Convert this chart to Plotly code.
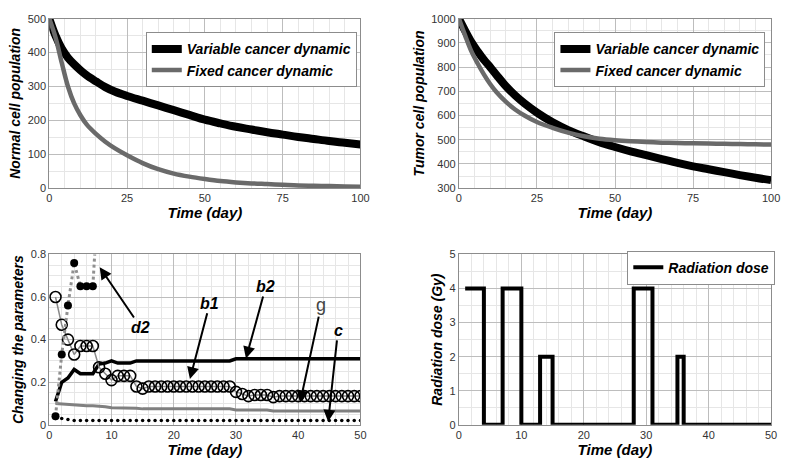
import plotly.graph_objects as go

# ---------------- data ----------------
t_long = [0, 2, 4, 6, 8, 10, 12, 15, 18, 21, 25, 30, 35, 40, 45, 50, 55, 60, 65, 70, 75, 80, 85, 90, 95, 100]
normal_variable = [500, 450, 412, 385, 365, 348, 333, 315, 298, 285, 272, 258, 244, 230, 216, 202, 191, 181, 173, 165, 158, 151, 145, 139, 134, 129]
normal_fixed = [500, 445, 370, 300, 250, 215, 188, 160, 137, 118, 97, 74, 56, 43, 34, 27, 21, 17, 14, 12, 10, 8, 7, 6, 5, 4]
tumor_variable = [1000, 950, 903, 865, 830, 800, 768, 722, 683, 650, 612, 572, 540, 514, 490, 470, 452, 436, 420, 404, 390, 378, 366, 354, 343, 333]
tumor_fixed = [1000, 930, 865, 815, 770, 730, 697, 657, 625, 600, 573, 549, 529, 514, 504, 498, 494, 491, 488, 486, 485, 484, 483, 482, 481, 480]

days = list(range(1, 51))
param_b1 = ([0.60, 0.47, 0.40, 0.33, 0.37, 0.37, 0.37, 0.27, 0.24, 0.21, 0.23, 0.23, 0.23, 0.18, 0.17]
            + [0.18] * 14
            + [0.155, 0.145, 0.135, 0.14, 0.14, 0.14, 0.13]
            + [0.135] * 14)
param_b2 = ([0.11, 0.20, 0.22, 0.26, 0.24, 0.24, 0.24, 0.285, 0.29, 0.30, 0.29, 0.29, 0.29, 0.30]
            + [0.30] * 15
            + [0.31] * 21)
param_g = ([0.10, 0.098, 0.095, 0.093, 0.09, 0.09, 0.09, 0.088, 0.085, 0.08, 0.08, 0.08, 0.08, 0.078]
           + [0.075] * 15
           + [0.07] * 6
           + [0.065] * 15)
param_c = [0.03, 0.03, 0.025] + [0.02] * 47
d2_days = [1, 2, 3, 4, 5, 6, 7, 8]
param_d2 = [0.04, 0.33, 0.56, 0.76, 0.65, 0.65, 0.65, 1.15]

dose_t = [1, 4, 7, 10, 13, 15, 28, 31, 35, 36, 50]
dose_gy = [4, 0, 4, 0, 2, 0, 4, 0, 2, 0, 0]

# annotation labels: (label, tip_x, tip_y, text_x, text_y)
param_labels = [
    ("d2", 8.1, 0.74, 14.7, 0.457),
    ("b1", 22.6, 0.215, 25.8, 0.571),
    ("b2", 31.6, 0.311, 34.8, 0.649),
    ("g", 40.3, 0.105, 43.7, 0.562),
    ("c", 44.8, 0.014, 46.4, 0.443),
]

# ---------------- figure ----------------
W, H = 785, 463
def px_x(p):
    return p / W
def px_y(p):
    return 1 - p / H

fig = go.Figure()

FONT = "Liberation Sans, Arial, sans-serif"
LEG_FONT = dict(family=FONT, size=14, color="black", weight="bold", style="italic")

# top-left
fig.add_trace(go.Scatter(x=t_long, y=normal_variable, mode="lines", line=dict(color="black", width=8, shape="spline", smoothing=1.0),
                         name="Variable cancer dynamic", xaxis="x", yaxis="y", legend="legend"))
fig.add_trace(go.Scatter(x=t_long, y=normal_fixed, mode="lines", line=dict(color="#6a6a6a", width=4.5, shape="spline", smoothing=1.0),
                         name="Fixed cancer dynamic", xaxis="x", yaxis="y", legend="legend"))
# top-right
fig.add_trace(go.Scatter(x=t_long, y=tumor_variable, mode="lines", line=dict(color="black", width=8, shape="spline", smoothing=1.0),
                         name="Variable cancer dynamic", xaxis="x2", yaxis="y2", legend="legend2"))
fig.add_trace(go.Scatter(x=t_long, y=tumor_fixed, mode="lines", line=dict(color="#6a6a6a", width=4.5, shape="spline", smoothing=1.0),
                         name="Fixed cancer dynamic", xaxis="x2", yaxis="y2", legend="legend2"))
# bottom-left
fig.add_trace(go.Scatter(x=days, y=param_g, mode="lines", line=dict(color="#808080", width=3),
                         showlegend=False, xaxis="x3", yaxis="y3"))
fig.add_trace(go.Scatter(x=days, y=param_c, mode="markers", marker=dict(color="black", size=3.5),
                         showlegend=False, xaxis="x3", yaxis="y3"))
fig.add_trace(go.Scatter(x=days, y=param_b2, mode="lines", line=dict(color="black", width=3.5),
                         showlegend=False, xaxis="x3", yaxis="y3"))
fig.add_trace(go.Scatter(x=days, y=param_b1, mode="lines+markers", line=dict(color="#8a8a8a", width=1.5),
                         marker=dict(symbol="circle-open", size=11, color="black", line=dict(width=1.6)),
                         showlegend=False, xaxis="x3", yaxis="y3"))
fig.add_trace(go.Scatter(x=d2_days, y=param_d2, mode="lines+markers", line=dict(color="#909090", width=3, dash="dot"),
                         marker=dict(symbol="circle", size=8, color="black"),
                         showlegend=False, xaxis="x3", yaxis="y3"))
# bottom-right
fig.add_trace(go.Scatter(x=dose_t, y=dose_gy, mode="lines", line=dict(color="black", width=4, shape="hv"),
                         name="Radiation dose", xaxis="x4", yaxis="y4", legend="legend3"))

dom_xl = [px_x(47), px_x(363)]
dom_xr = [px_x(463), px_x(780)]
dom_yt = [px_y(187), px_y(13)]
dom_yb = [px_y(430), px_y(255)]

def xaxis(domain, rng, dtick, minor, anchor):
    return dict(domain=domain, range=rng, dtick=dtick, tick0=0, anchor=anchor,
                showgrid=True, gridcolor="#bdbdbd", gridwidth=1,
                minor=dict(dtick=minor, showgrid=True, gridcolor="#e6e6e6", gridwidth=1),
                showline=True, linecolor="#8c8c8c", linewidth=1, mirror=True,
                ticks="", zeroline=False,
                tickfont=dict(family=FONT, size=11, color="#333333"),
                title=dict(text="Time (day)", standoff=2,
                           font=dict(family=FONT, size=15, color="black", weight="bold", style="italic")))

def yaxis(domain, rng, dtick, minor, anchor, title):
    return dict(domain=domain, range=rng, dtick=dtick, tick0=0, anchor=anchor,
                showgrid=True, gridcolor="#bdbdbd", gridwidth=1,
                minor=dict(dtick=minor, showgrid=True, gridcolor="#e6e6e6", gridwidth=1),
                showline=True, linecolor="#8c8c8c", linewidth=1, mirror=True,
                ticks="", zeroline=False,
                tickfont=dict(family=FONT, size=11, color="#333333"),
                title=dict(text=title, standoff=3,
                           font=dict(family=FONT, size=14, color="black", weight="bold", style="italic")))

fig.update_layout(
    width=W, height=H,
    margin=dict(l=0, r=0, t=0, b=0),
    paper_bgcolor="white", plot_bgcolor="white",
    xaxis=xaxis(dom_xl, [0, 100], 25, 5, "y"),
    yaxis=yaxis(dom_yt, [0, 500], 100, 50, "x", "Normal cell population"),
    xaxis2=xaxis(dom_xr, [0, 100], 25, 5, "y2"),
    yaxis2=yaxis(dom_yt, [300, 1000], 100, 50, "x2", "Tumor cell population"),
    xaxis3=xaxis(dom_xl, [0, 50], 10, 2, "y3"),
    yaxis3=yaxis(dom_yb, [0, 0.8], 0.2, 0.05, "x3", "Changing the parameters"),
    xaxis4=xaxis(dom_xr, [0, 50], 10, 2, "y4"),
    yaxis4=yaxis(dom_yb, [0, 5], 1, 0.5, "x4", "Radiation dose (Gy)"),
    legend=dict(x=px_x(145), y=px_y(27), xanchor="left", yanchor="top", bgcolor="white",
                bordercolor="#8c8c8c", borderwidth=1, font=LEG_FONT, itemwidth=30, tracegroupgap=0),
    legend2=dict(x=px_x(560), y=px_y(27), xanchor="left", yanchor="top", bgcolor="white",
                 bordercolor="#8c8c8c", borderwidth=1, font=LEG_FONT, itemwidth=30, tracegroupgap=0),
    legend3=dict(x=px_x(634), y=px_y(286), xanchor="left", yanchor="bottom", bgcolor="white",
                 bordercolor="#8c8c8c", borderwidth=1, font=LEG_FONT, itemwidth=30, tracegroupgap=0),
)

for lab, tx, ty, ax_, ay_ in param_labels:
    if lab == "g":
        f = dict(family=FONT, size=18, color="#444444")
    else:
        f = dict(family=FONT, size=16, color="black", weight="bold", style="italic")
    fig.add_annotation(x=tx, y=ty, ax=ax_, ay=ay_, xref="x3", yref="y3", axref="x3", ayref="y3",
                       text=lab, showarrow=True, arrowhead=2, arrowsize=1.2, arrowwidth=2, arrowcolor="black",
                       font=f)

fig.write_html("out.html")
